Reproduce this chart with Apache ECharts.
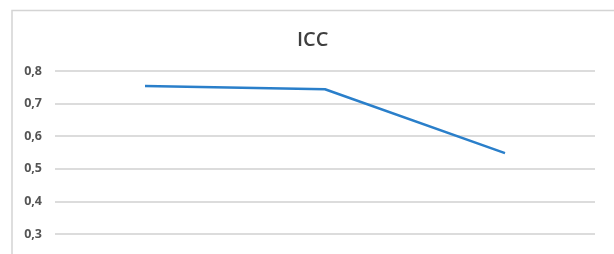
<!DOCTYPE html>
<html>
<head>
<meta charset="utf-8">
<script src="https://cdn.jsdelivr.net/npm/echarts@6/dist/echarts.min.js"></script>
<style>
  html, body { margin: 0; padding: 0; background: #fff; }
  #chart { width: 614px; height: 254px; }
</style>
</head>
<body>
<div id="chart"></div>
<script>
// data (x labels are cut off in the reference)
var categories = ['1', '2', '3'];
var iccValues = [0.754, 0.744, 0.548];
var yTicks = [0.3, 0.4, 0.5, 0.6, 0.7, 0.8];

var chartDom = document.getElementById('chart');
var myChart = echarts.init(chartDom);
var option;

option = {
    animation: false,
    backgroundColor: '#fff',
    title: {
        text: 'ICC',
        left: 292,
        top: 25,
        textStyle: {
            fontFamily: 'Open Sans',
            fontSize: 20,
            fontWeight: 600,
            color: '#3f3f3f'
        }
    },
    // frame of the original chart box, partly cropped
    graphic: [
        {
            type: 'polyline',
            shape: { points: [[12, 260], [12, 10.5], [620, 10.5]] },
            style: { stroke: '#d4d4d4', lineWidth: 1.5, fill: null }
        }
    ],
    grid: {
        left: 55,
        right: 19,
        top: 71,
        bottom: 20
    },
    xAxis: {
        type: 'category',
        data: categories,
        boundaryGap: true,
        axisLine: { show: false },
        axisTick: { show: false },
        axisLabel: { show: false }
    },
    yAxis: {
        type: 'value',
        min: yTicks[0],
        max: yTicks[yTicks.length - 1],
        interval: 0.1,
        axisLine: { show: false },
        axisTick: { show: false },
        axisLabel: {
            margin: 13,
            fontFamily: 'Open Sans',
            fontSize: 12.5,
            fontWeight: 'bold',
            color: '#555',
            formatter: function (v) {
                return v.toFixed(1).replace('.', ',');
            }
        },
        splitLine: {
            lineStyle: { color: '#d0d0d0', width: 1.5 }
        }
    },
    series: [
        {
            type: 'line',
            data: iccValues,
            symbol: 'none',
            lineStyle: { color: '#2a7fca', width: 2.5 }
        }
    ]
};

option && myChart.setOption(option);
</script>
</body>
</html>
